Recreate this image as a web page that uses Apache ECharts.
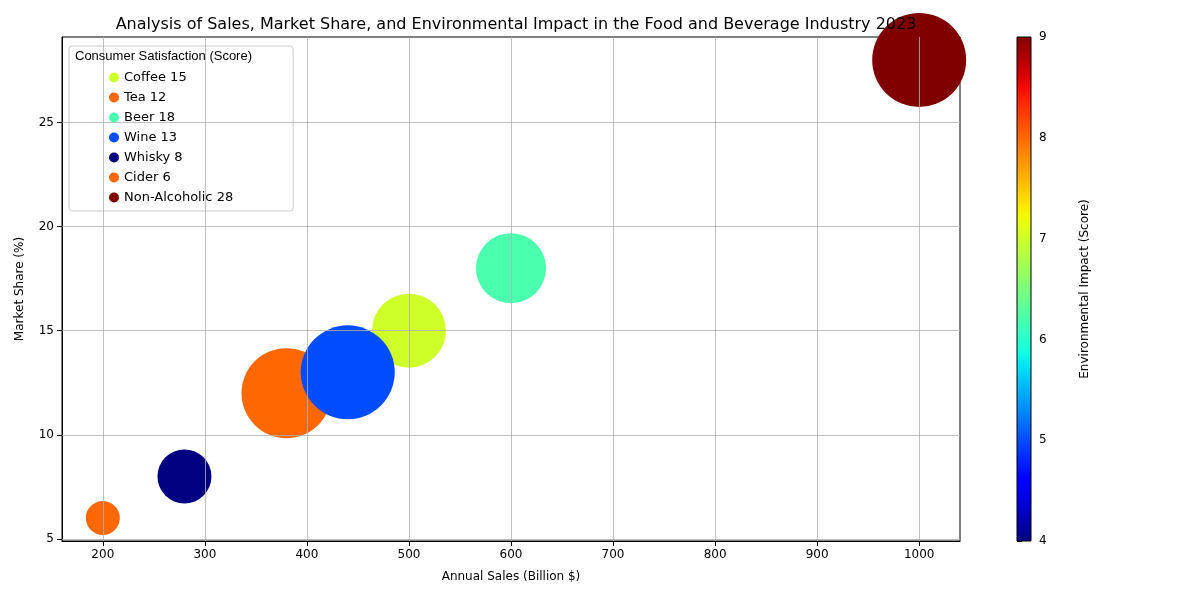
<!DOCTYPE html>
<html><head><meta charset="utf-8">
<script src="https://cdn.jsdelivr.net/npm/echarts@6/dist/echarts.min.js"></script>
<style>html,body{margin:0;background:#fff}#c{width:1200px;height:600px}</style>
</head><body><div id="c"></div>
<script>
var names = ['Coffee', 'Tea', 'Beer', 'Wine', 'Whisky', 'Cider', 'Non-Alcoholic'];
var sales = [500, 380, 600, 440, 280, 200, 1000];
var share = [15, 12, 18, 13, 8, 6, 28];
var impact = [7.0, 8.0, 6.2, 5.0, 4.0, 8.0, 9.0];
var bubble = [74, 90, 70, 94, 54, 34, 94];

// matplotlib jet segment data
var jetR = [[0, 0], [0.35, 0], [0.66, 1], [0.89, 1], [1, 0.5]];
var jetG = [[0, 0], [0.125, 0], [0.375, 1], [0.64, 1], [0.91, 0], [1, 0]];
var jetB = [[0, 0.5], [0.11, 1], [0.34, 1], [0.65, 0], [1, 0]];
function seg(s, t) {
    for (var i = 1; i < s.length; i++) {
        if (t <= s[i][0]) {
            var f = (t - s[i - 1][0]) / (s[i][0] - s[i - 1][0]);
            return s[i - 1][1] + f * (s[i][1] - s[i - 1][1]);
        }
    }
    return s[s.length - 1][1];
}
function jet(t) {
    return 'rgb(' + Math.round(seg(jetR, t) * 255) + ',' + Math.round(seg(jetG, t) * 255) + ',' + Math.round(seg(jetB, t) * 255) + ')';
}
function col(v) { return jet((v - 4) / 5); }

var series = names.map(function (n, i) {
    return {
        name: n + ' ' + share[i], type: 'scatter', xAxisIndex: 0, yAxisIndex: 0, clip: true,
        data: [[sales[i], share[i]]], symbolSize: bubble[i],
        itemStyle: { color: col(impact[i]), opacity: 1 }, z: 2
    };
});
var stops = [];
for (var k = 0; k <= 40; k++) stops.push({ offset: k / 40, color: jet(1 - k / 40) });

var chart = echarts.init(document.getElementById('c'));
var axisTxt = { color: '#000', fontSize: 12, fontFamily: 'DejaVu Sans' };
chart.setOption({
    animation: false,
    textStyle: { fontFamily: 'DejaVu Sans' },
    title: { text: 'Analysis of Sales, Market Share, and Environmental Impact in the Food and Beverage Industry 2023',
        left: 511, top: 12, textAlign: 'center', textStyle: { fontSize: 16, fontWeight: 'normal', color: '#000' } },
    legend: {
        left: 69, top: 46, orient: 'vertical', itemWidth: 10, itemHeight: 10, itemGap: 7,
        icon: 'circle', textStyle: { fontSize: 13, color: '#000' },
        backgroundColor: '#fff', borderColor: '#ccc', borderWidth: 1, borderRadius: 3,
        padding: [25, 60, 7, 40], z: 3,
        data: series.map(function (s) { return s.name; })
    },
    graphic: [
        { type: 'text', left: 75, top: 50, z: 100, style: { text: 'Consumer Satisfaction (Score)', fontSize: 13, fill: '#000' } },
        { type: 'rect', shape: { x: 1017, y: 37, width: 14, height: 504 },
          style: { fill: new echarts.graphic.LinearGradient(0, 0, 0, 1, stops), stroke: '#000', lineWidth: 1 }, z: 10 }
    ],
    grid: [
        { left: 62, right: 240, top: 37, bottom: 59, show: true, borderColor: '#000', borderWidth: 1 },
        { left: 1017, width: 14, top: 37, bottom: 59 }
    ],
    xAxis: [
        { type: 'value', min: 160, max: 1040, interval: 100, gridIndex: 0,
          name: 'Annual Sales (Billion $)', nameLocation: 'middle', nameGap: 30, nameTextStyle: axisTxt,
          axisLabel: Object.assign({ customValues: [200, 300, 400, 500, 600, 700, 800, 900, 1000],
            formatter: function (v) { return String(v); } }, axisTxt),
          axisTick: { customValues: [200, 300, 400, 500, 600, 700, 800, 900, 1000], lineStyle: { color: '#000' } },
          axisLine: { lineStyle: { color: '#000' } },
          splitLine: { show: false } },
        { type: 'value', gridIndex: 1, show: false, min: 0, max: 1 }
    ],
    yAxis: [
        { type: 'value', min: 4.9, max: 29.1, gridIndex: 0,
          name: 'Market Share (%)', nameLocation: 'middle', nameGap: 36, nameTextStyle: axisTxt,
          axisLabel: Object.assign({ customValues: [5, 10, 15, 20, 25] }, axisTxt),
          axisTick: { show: true, customValues: [5, 10, 15, 20, 25], lineStyle: { color: '#000' } },
          axisLine: { show: true, lineStyle: { color: '#000' } },
          splitLine: { show: false } },
        { type: 'value', gridIndex: 1, position: 'right', min: 4, max: 9, interval: 1,
          name: 'Environmental Impact (Score)', nameLocation: 'middle', nameGap: 48, nameRotate: 90, nameTextStyle: axisTxt,
          axisLabel: axisTxt, axisTick: { show: true, lineStyle: { color: '#000' } },
          axisLine: { show: false }, splitLine: { show: false } }
    ],
    series: series.concat([
        { type: 'line', xAxisIndex: 0, yAxisIndex: 0, silent: true, symbol: 'none', data: [], z: 1,
          markLine: { silent: true, symbol: 'none', label: { show: false },
            lineStyle: { color: '#b0b0b0', type: 'solid', width: 0.8 },
            data: [200, 300, 400, 500, 600, 700, 800, 900, 1000].map(function (v) { return { xAxis: v }; })
              .concat([5, 10, 15, 20, 25].map(function (v) { return { yAxis: v }; })) } }
    ])
});
</script></body></html>
